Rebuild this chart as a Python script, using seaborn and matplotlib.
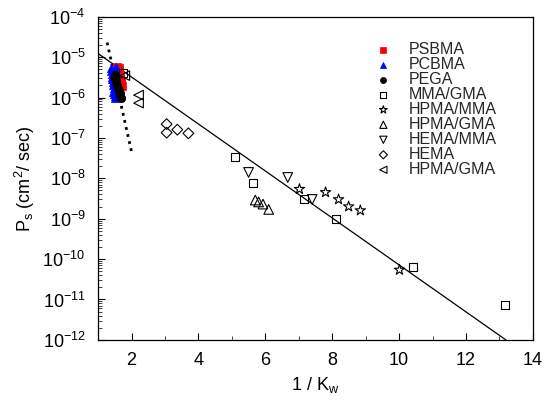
import matplotlib
matplotlib.use("Agg")
import matplotlib.pyplot as plt
import seaborn as sns
import numpy as np
from matplotlib.ticker import LogLocator, FixedLocator, NullFormatter

sns.set_theme(style="white")
plt.rcParams['font.family'] = ['Liberation Sans', 'DejaVu Sans']
plt.rcParams['mathtext.fontset'] = 'custom'
plt.rcParams['mathtext.rm'] = 'Liberation Sans'
plt.rcParams['mathtext.it'] = 'Liberation Sans'
plt.rcParams['mathtext.default'] = 'regular'

# ---- data ----
psbma_x = [1.58, 1.60, 1.62, 1.63, 1.65, 1.66, 1.68, 1.70, 1.72, 1.64]
psbma_y = [5.8e-6, 5.0e-6, 4.3e-6, 3.7e-6, 3.2e-6, 2.8e-6, 2.4e-6, 2.1e-6, 1.9e-6, 5.3e-6]

pcbma_x = [1.38, 1.40, 1.42, 1.41, 1.43, 1.45, 1.44, 1.47, 1.46, 1.49, 1.50, 1.52, 1.48, 1.55]
pcbma_y = [5.5e-6, 4.6e-6, 3.9e-6, 3.3e-6, 2.8e-6, 2.4e-6, 2.0e-6, 1.7e-6, 1.4e-6, 1.2e-6,
           1.0e-6, 1.1e-6, 4.8e-6, 5.6e-6]

pega_x = [1.50, 1.52, 1.55, 1.53, 1.57, 1.58, 1.60, 1.62, 1.63, 1.65, 1.67, 1.68, 1.70, 1.66]
pega_y = [3.6e-6, 3.1e-6, 2.7e-6, 2.4e-6, 2.1e-6, 1.9e-6, 1.7e-6, 1.5e-6, 1.35e-6, 1.2e-6,
          1.1e-6, 1.0e-6, 0.95e-6, 1.3e-6]

mma_gma_x = [1.75, 5.09, 5.63, 7.15, 8.12, 10.41, 13.17]
mma_gma_y = [4.0e-6, 3.4e-8, 7.6e-9, 3.0e-9, 9.8e-10, 6.3e-11, 7.2e-12]

hpma_mma_x = [7.02, 7.80, 8.19, 8.49, 8.84, 10.01]
hpma_mma_y = [5.4e-9, 4.5e-9, 3.0e-9, 2.0e-9, 1.6e-9, 5.4e-11]

hpma_gma_x = [5.70, 5.80, 5.93, 6.10]
hpma_gma_y = [2.9e-9, 2.6e-9, 2.3e-9, 1.7e-9]

hema_mma_x = [5.50, 6.67, 7.40]
hema_mma_y = [1.4e-8, 1.05e-8, 3.0e-9]

hema_x = [3.05, 3.05, 3.37, 3.70]
hema_y = [2.2e-7, 1.35e-7, 1.6e-7, 1.3e-7]

hpma_gma2_x = [1.80, 2.21, 2.21]
hpma_gma2_y = [3.5e-6, 1.15e-6, 7.3e-7]

fit_x = [1.0, 13.19]
fit_y = [1.23e-5, 1.0e-12]

dot_x = [1.27, 2.0]
dot_y = [2.3e-5, 4.6e-8]

x_ticks = [2, 4, 6, 8, 10, 12, 14]
y_exps = [-4, -5, -6, -7, -8, -9, -10, -11, -12]

# ---- figure ----
fig = plt.figure(figsize=(5.54, 4.09), dpi=100)
ax = fig.add_axes([0.177, 0.169, 0.785, 0.790])

sns.lineplot(x=fit_x, y=fit_y, ax=ax, color='black', linewidth=0.9, legend=False)
sns.lineplot(x=dot_x, y=dot_y, ax=ax, color='black', linewidth=2.0,
             linestyle=(0, (1, 1.6)), legend=False)

filled = [
    (psbma_x, psbma_y, 's', 'red', 'PSBMA'),
    (pcbma_x, pcbma_y, '^', 'blue', 'PCBMA'),
    (pega_x, pega_y, 'o', 'black', 'PEGA'),
]
for xs, ys, m, c, lab in filled:
    sns.scatterplot(x=xs, y=ys, ax=ax, marker=m, s=34, color=c, edgecolor=c,
                    linewidth=0.5, label=lab, zorder=3)

opened = [
    (mma_gma_x, mma_gma_y, 's', 'MMA/GMA', 34),
    (hpma_mma_x, hpma_mma_y, '*', 'HPMA/MMA', 60),
    (hpma_gma_x, hpma_gma_y, '^', 'HPMA/GMA', 48),
    (hema_mma_x, hema_mma_y, 'v', 'HEMA/MMA', 48),
    (hema_x, hema_y, 'D', 'HEMA', 30),
    (hpma_gma2_x, hpma_gma2_y, '<', 'HPMA/GMA', 48),
]
for xs, ys, m, lab, sz in opened:
    sns.scatterplot(x=xs, y=ys, ax=ax, marker=m, s=sz, facecolor='none',
                    edgecolor='black', linewidth=0.8, label=lab, zorder=3)

ax.set_yscale('log')
ax.set_xlim(1, 14)
ax.set_ylim(1e-12, 1e-4)

ax.xaxis.set_major_locator(FixedLocator(x_ticks))
ax.xaxis.set_minor_locator(FixedLocator([3, 5, 7, 9, 11, 13]))
ax.set_xticklabels([str(t) for t in x_ticks])
ax.yaxis.set_major_locator(FixedLocator([10.0 ** e for e in y_exps]))
ax.set_yticklabels([r'$10^{%d}$' % e for e in y_exps])
ax.yaxis.set_minor_locator(LogLocator(base=10, subs=np.arange(2, 10), numticks=20))
ax.yaxis.set_minor_formatter(NullFormatter())

ax.tick_params(axis='both', which='major', direction='in', length=5, width=0.8,
               labelsize=13, colors='black', top=False, right=False,
               left=True, bottom=True)
ax.tick_params(axis='both', which='minor', direction='in', length=3, width=0.6,
               top=False, right=False, left=True, bottom=True)
ax.tick_params(axis='x', which='major', pad=9)
ax.tick_params(axis='y', which='major', pad=9)

for sp in ax.spines.values():
    sp.set_color('black')
    sp.set_linewidth(0.9)

ax.set_xlabel(r'1 / K$_w$', fontsize=13, color='black', labelpad=4)
ax.set_ylabel(r'P$_s$ (cm$^2$/ sec)', fontsize=13, color='black', labelpad=4)

leg = ax.legend(loc='upper left', bbox_to_anchor=(0.634, 0.922), frameon=False,
                fontsize=11.5, markerscale=0.75, handlelength=1.2,
                handletextpad=1.0, labelspacing=0.0, borderaxespad=0,
                borderpad=0)

fig.savefig('out.png', dpi=100)
